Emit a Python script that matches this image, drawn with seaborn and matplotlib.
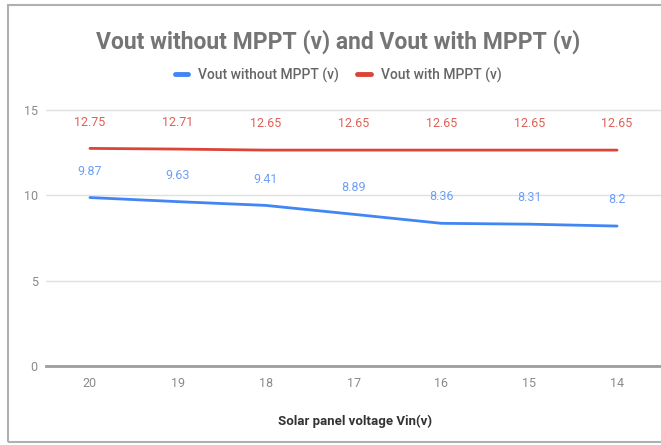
import pandas as pd
import matplotlib.pyplot as plt
import seaborn as sns
from matplotlib.patches import Rectangle

# Données
vin = ["20", "19", "18", "17", "16", "15", "14"]
vout_without = [9.87, 9.63, 9.41, 8.89, 8.36, 8.31, 8.2]
vout_with = [12.75, 12.71, 12.65, 12.65, 12.65, 12.65, 12.65]
series_names = ["Vout without MPPT (v)", "Vout with MPPT (v)"]
colors = ["#4285f4", "#db4437"]
label_colors = ["#6fa0f6", "#e06055"]

df = pd.DataFrame({
    "vin": vin * 2,
    "vout": vout_without + vout_with,
    "serie": [series_names[0]] * len(vin) + [series_names[1]] * len(vin),
})

sns.set_style("white")
plt.rcParams["font.family"] = ["Roboto", "DejaVu Sans"]

fig = plt.figure(figsize=(6.61, 4.45), dpi=100)
ax = fig.add_axes([46 / 661, 1 - 366 / 445, 1 - 46 / 661, (366 - 110) / 445])

sns.lineplot(data=df, x="vin", y="vout", hue="serie", palette=colors,
             linewidth=2, ax=ax, legend=False, sort=False)

# Étiquettes de valeurs
for vals, c in zip([vout_without, vout_with], label_colors):
    for i, v in enumerate(vals):
        ax.annotate(f"{v:g}", (i, v), xytext=(0, 19), textcoords="offset points",
                    ha="center", va="center", fontsize=9, color=c)

ax.set_xlim(-0.5, len(vin) - 0.5)
ax.set_ylim(0, 15)
ax.set_yticks([0, 5, 10, 15])
ax.grid(axis="y", color="#e0e0e0", linewidth=1)
ax.tick_params(axis="both", length=0, labelsize=9, labelcolor="#8a8a8a")
ax.tick_params(axis="y", pad=6)
ax.tick_params(axis="x", pad=8)
for s in ["top", "right", "left"]:
    ax.spines[s].set_visible(False)
ax.spines["bottom"].set_color("#9e9e9e")
ax.spines["bottom"].set_linewidth(2)
ax.set_xlabel("")
ax.set_ylabel("")
for line in ax.get_ygridlines():
    line.set_clip_on(False)

# Titre, légende, axe x
fig.text(338 / 661, 1 - 42 / 445, "Vout without MPPT (v) and Vout with MPPT (v)",
         ha="center", va="center", fontsize=16.5, fontweight="bold", color="#757575")
fig.text(355 / 661, 1 - 421 / 445, "Solar panel voltage Vin(v)",
         ha="center", va="center", fontsize=9.5, fontweight="bold", color="#333333")

handles = [plt.Line2D([], [], color=c, linewidth=3.5) for c in colors]
fig.legend(handles, series_names, loc="center", bbox_to_anchor=(338 / 661, 1 - 75 / 445),
           ncol=2, frameon=False, fontsize=10, handlelength=1.0, columnspacing=1.3,
           handletextpad=0.7, labelcolor="#666666",
           prop={"weight": "medium", "size": 10})

# Cadre gris autour du graphique
fig.patches.append(Rectangle((8 / 661, 3 / 445), 1.0, 1 - 8 / 445, transform=fig.transFigure,
                             fill=False, edgecolor="#b0b0b0", linewidth=1.5))

plt.savefig("out.png", dpi=100)
